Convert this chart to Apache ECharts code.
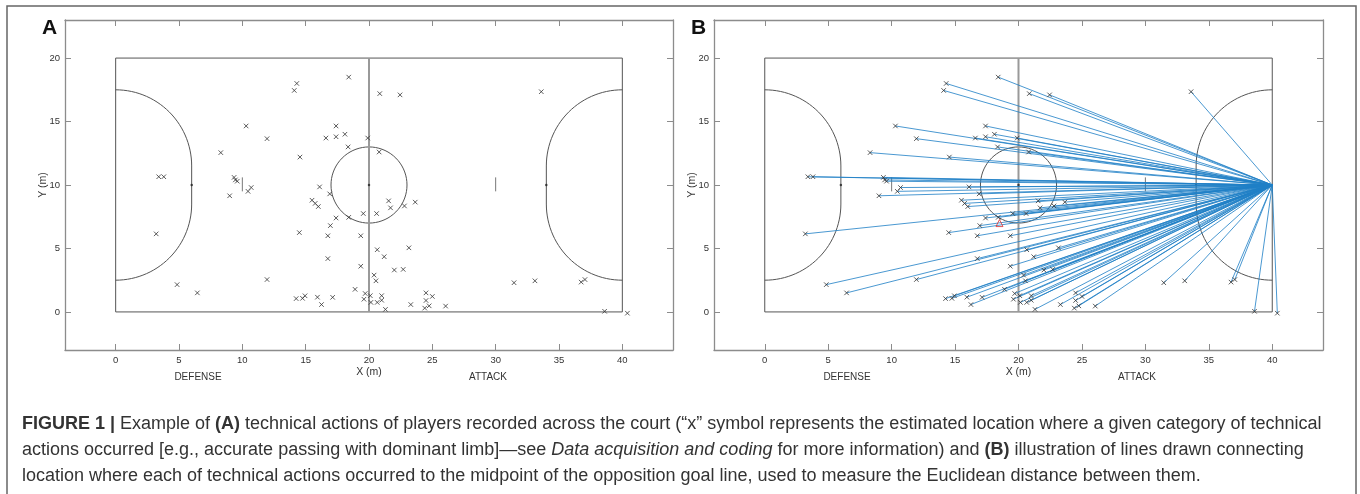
<!DOCTYPE html>
<html>
<head>
<meta charset="utf-8">
<script src="https://cdn.jsdelivr.net/npm/echarts@6/dist/echarts.min.js"></script>
<style>
html, body { margin: 0; padding: 0; background: #fff; }
#chart { width: 1360px; height: 494px; }
</style>
</head>
<body>
<div id="chart"></div>
<script>
// 技术动作位置 (m)
var actionX = [18.4, 14.3, 14.1, 20.85, 22.45, 33.6, 10.3, 17.4, 11.95, 16.6,
  17.4, 18.1, 19.9, 18.35, 20.8, 8.3, 14.55, 3.4, 3.8, 9.35,
  9.45, 9.6, 10.7, 10.45, 9.0, 16.1, 16.9, 15.5, 15.75, 16.0,
  17.4, 18.4, 19.55, 20.6, 21.55, 21.7, 22.8, 23.65, 16.95, 16.75,
  19.35, 14.5, 3.2, 23.15, 20.65, 21.2, 16.75, 19.35, 22.0, 22.7,
  20.4, 20.55, 11.95, 31.45, 33.1, 36.75, 37.05, 4.85, 6.45, 18.9,
  19.7, 20.1, 21.0, 21.0, 19.6, 20.15, 20.65, 21.3, 23.3, 24.5,
  25.0, 24.5, 24.75, 24.4, 26.05, 14.25, 14.75, 14.95, 15.93, 16.25,
  17.13, 38.6, 40.4];
var actionY = [18.5, 18.0, 17.45, 17.2, 17.1, 17.35, 14.65, 14.65, 13.65, 13.7,
  13.8, 14.0, 13.7, 13.0, 12.6, 12.55, 12.2, 10.65, 10.65, 10.6,
  10.4, 10.3, 9.8, 9.5, 9.15, 9.85, 9.3, 8.8, 8.55, 8.3,
  7.4, 7.45, 7.75, 7.75, 8.75, 8.2, 8.35, 8.65, 6.8, 6.0,
  6.0, 6.25, 6.15, 5.05, 4.9, 4.35, 4.2, 3.6, 3.3, 3.35,
  2.9, 2.45, 2.55, 2.3, 2.45, 2.35, 2.55, 2.15, 1.5, 1.78,
  1.45, 1.28, 1.28, 0.92, 1.0, 0.75, 0.75, 0.2, 0.58, 1.5,
  1.22, 0.9, 0.48, 0.3, 0.46, 1.05, 1.07, 1.27, 1.16, 0.58,
  1.15, 0.05, -0.1];
// 对方球门线中点
var goalTarget = [40, 10];
// 红色三角
var markerX = [18.5];
var markerY = [7.0];
// 刻度
var xTicks = [0, 5, 10, 15, 20, 25, 30, 35, 40];
var yTicks = [0, 5, 10, 15, 20];

// 球场尺寸
var courtL = 40, courtW = 20, circleR = 3, areaR = 6, postY1 = 8.5, postY2 = 11.5;

var axisColor = '#8c8c8c';
var font = "'Liberation Sans', Arial, sans-serif";

function pts(n, fn) {
  var out = [];
  for (var i = 0; i <= n; i++) out.push(fn(i / n));
  return out;
}

function courtShapes() {
  var rect = [[0, 0], [courtL, 0], [courtL, courtW], [0, courtW], [0, 0]];
  var circle = pts(72, function (t) {
    var a = t * Math.PI * 2;
    return [courtL / 2 + circleR * Math.cos(a), courtW / 2 + circleR * Math.sin(a)];
  });
  var left = pts(30, function (t) {
    var a = Math.PI / 2 - t * Math.PI / 2;
    return [areaR * Math.cos(a), postY2 + areaR * Math.sin(a)];
  }).concat(pts(30, function (t) {
    var a = -t * Math.PI / 2;
    return [areaR * Math.cos(a), postY1 + areaR * Math.sin(a)];
  }));
  var right = left.map(function (p) { return [courtL - p[0], p[1]]; });
  return {
    rect: rect, circle: circle, left: left, right: right,
    half: [[courtL / 2, 0], [courtL / 2, courtW]],
    mark1: [[10, 9.5], [10, 10.6]],
    mark2: [[30, 9.5], [30, 10.6]],
    dots: [[areaR, 10], [courtL / 2, 10], [courtL - areaR, 10]]
  };
}

function lineSeries(data, xi, yi, color, width, z) {
  return {
    type: 'line', xAxisIndex: xi, yAxisIndex: yi, data: data,
    showSymbol: false, silent: true, animation: false, z: z || 2,
    lineStyle: { color: color, width: width }
  };
}

function courtSeries(xi, yi) {
  var c = courtShapes();
  return [
    lineSeries(c.rect, xi, yi, '#555', 1),
    lineSeries(c.circle, xi, yi, '#555', 1),
    lineSeries(c.left, xi, yi, '#555', 1),
    lineSeries(c.right, xi, yi, '#555', 1),
    lineSeries(c.half, xi, yi, '#999', 2),
    lineSeries(c.mark1, xi, yi, '#777', 1),
    lineSeries(c.mark2, xi, yi, '#777', 1),
    {
      type: 'scatter', xAxisIndex: xi, yAxisIndex: yi, data: c.dots,
      symbolSize: 2.5, itemStyle: { color: '#222' }, silent: true, z: 3
    }
  ];
}

var pointData = actionX.map(function (x, i) { return [x, actionY[i]]; });

function crossSeries(xi, yi) {
  return {
    type: 'scatter', xAxisIndex: xi, yAxisIndex: yi, data: pointData,
    symbol: 'path://M0,0L10,10M10,0L0,10', symbolSize: 4.5,
    itemStyle: { color: 'none', borderColor: '#333', borderWidth: 1 },
    silent: true, z: 6
  };
}

function xAxisDef(gi, pos) {
  var bottom = pos === 'bottom';
  return {
    type: 'value', gridIndex: gi, position: pos, min: -4, max: 44,
    name: bottom ? 'X (m)' : '', nameLocation: 'middle', nameGap: 17, nameMoveOverlap: false,
    nameTextStyle: { fontFamily: font, fontSize: 10.5, color: '#333' },
    axisLine: { show: true, onZero: false, lineStyle: { color: axisColor, width: 1.3 } },
    axisTick: { show: true, inside: true, length: 6, customValues: xTicks, lineStyle: { color: axisColor, width: 1 } },
    axisLabel: { show: bottom, customValues: xTicks, fontFamily: font, fontSize: 9.5, color: '#333', margin: 5 },
    splitLine: { show: false }
  };
}

function yAxisDef(gi, pos) {
  var left = pos === 'left';
  return {
    type: 'value', gridIndex: gi, position: pos, min: -3, max: 23,
    name: left ? 'Y (m)' : '', nameLocation: 'middle', nameGap: 16, nameMoveOverlap: false,
    nameTextStyle: { fontFamily: font, fontSize: 10.5, color: '#333' },
    axisLine: { show: true, onZero: false, lineStyle: { color: axisColor, width: 1.3 } },
    axisTick: { show: true, inside: true, length: 6, customValues: yTicks, lineStyle: { color: axisColor, width: 1 } },
    axisLabel: { show: left, customValues: yTicks, fontFamily: font, fontSize: 9.5, color: '#333', margin: 5 },
    splitLine: { show: false }
  };
}

var lineData = actionX.map(function (x, i) {
  return { coords: [[x, actionY[i]], goalTarget] };
});

var series = []
  .concat(courtSeries(0, 0))
  .concat([crossSeries(0, 0)])
  .concat(courtSeries(2, 2))
  .concat([{
    type: 'lines', coordinateSystem: 'cartesian2d', xAxisIndex: 2, yAxisIndex: 2,
    data: lineData, silent: true, z: 4,
    lineStyle: { color: '#1f7fc6', width: 0.9, opacity: 0.9 }
  }, crossSeries(2, 2), {
    type: 'scatter', xAxisIndex: 2, yAxisIndex: 2,
    data: markerX.map(function (x, i) { return [x, markerY[i]]; }),
    symbol: 'triangle', symbolSize: 7,
    itemStyle: { color: 'none', borderColor: '#e03030', borderWidth: 1 }, z: 7
  }]);

function caption(y, text) {
  return {
    type: 'text', left: 22, top: y,
    style: {
      text: text, fontFamily: font, fontSize: 18, fill: '#333',
      rich: {
        b: { fontFamily: font, fontSize: 18, fontWeight: 'bold', fill: '#333' },
        i: { fontFamily: font, fontSize: 18, fontStyle: 'italic', fill: '#333' }
      }
    }
  };
}

function bottomLabel(x, text) {
  return {
    type: 'text', x: x, y: 377,
    style: { text: text, fontFamily: font, fontSize: 10, fill: '#333', align: 'center', verticalAlign: 'middle' }
  };
}

var graphic = [
  { type: 'rect', shape: { x: 7, y: 6, width: 1349, height: 600 }, style: { fill: 'none', stroke: '#666', lineWidth: 1.5 }, silent: true },
  { type: 'text', left: 42, top: 18, style: { text: 'A', fontFamily: font, fontSize: 21, fontWeight: 'bold', fill: '#111' } },
  { type: 'text', left: 691, top: 18, style: { text: 'B', fontFamily: font, fontSize: 21, fontWeight: 'bold', fill: '#111' } },
  bottomLabel(198, 'DEFENSE'), bottomLabel(488, 'ATTACK'),
  bottomLabel(847, 'DEFENSE'), bottomLabel(1137, 'ATTACK'),
  caption(415, '{b|FIGURE 1 |} Example of {b|(A)} technical actions of players recorded across the court (\u201cx\u201d symbol represents the estimated location where a given category of technical'),
  caption(441, 'actions occurred [e.g., accurate passing with dominant limb]\u2014see {i|Data acquisition and coding} for more information) and {b|(B)} illustration of lines drawn connecting'),
  caption(467, 'location where each of technical actions occurred to the midpoint of the opposition goal line, used to measure the Euclidean distance between them.')
];

var myChart = echarts.init(document.getElementById('chart'));
myChart.setOption({
  animation: false,
  backgroundColor: '#fff',
  grid: [
    { left: 65, top: 20, width: 608, height: 330 },
    { left: 714, top: 20, width: 609, height: 330 }
  ],
  xAxis: [xAxisDef(0, 'bottom'), xAxisDef(0, 'top'), xAxisDef(1, 'bottom'), xAxisDef(1, 'top')],
  yAxis: [yAxisDef(0, 'left'), yAxisDef(0, 'right'), yAxisDef(1, 'left'), yAxisDef(1, 'right')],
  series: series,
  graphic: graphic
});
</script>
</body>
</html>
